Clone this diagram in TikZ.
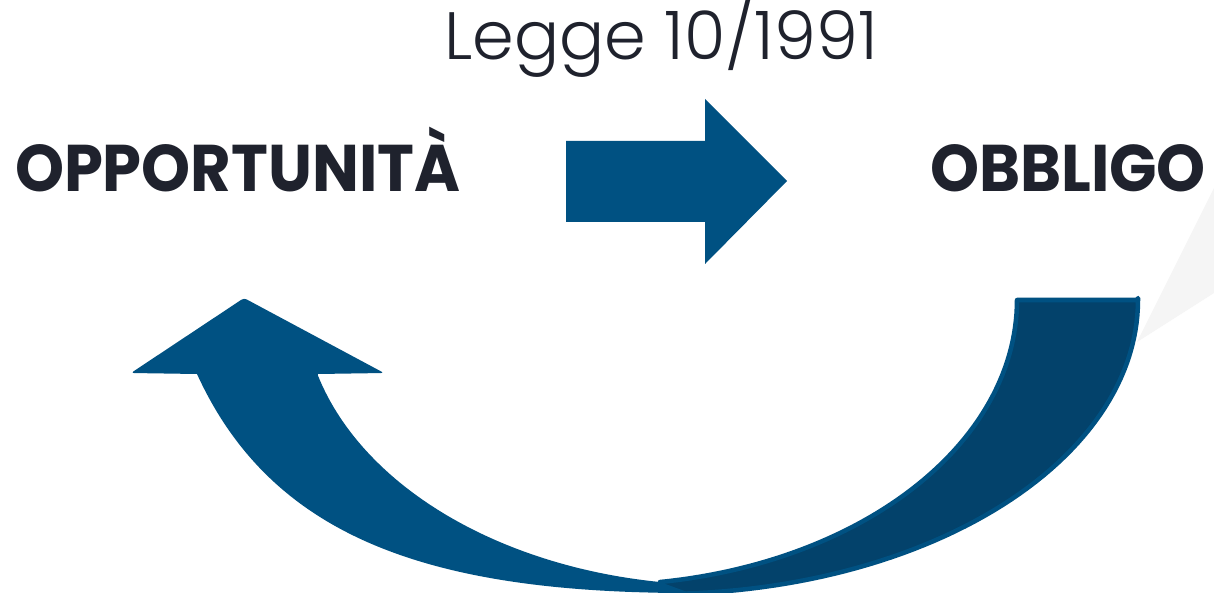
\documentclass[tikz,border=0pt]{standalone}
\usepackage{fontspec}
\setmainfont{Poppins}
\newfontfamily\titlefont{Poppins Light}
\newfontfamily\labelfont{Poppins Bold}[FakeStretch=0.945]
\definecolor{arrowblue}{HTML}{005182}
\definecolor{deepblue}{HTML}{03426B}
\definecolor{ink}{HTML}{1F222D}
\definecolor{haze}{HTML}{F5F5F5}
\begin{document}
\begin{tikzpicture}[x=1pt,y=-1pt,
  wordstyle/.style={inner sep=0pt, outer sep=0pt, text=ink},
  frontarm/.style={fill=arrowblue},
  backarm/.style={fill=deepblue, draw=arrowblue, line width=4.5pt, line join=round},
  blockarrow/.style={fill=arrowblue}]
  \useasboundingbox (0,0) rectangle (1214,593);
  \fill[white] (0,0) rectangle (1214,593);

  % faint light wedge in the right margin
  \fill[haze] (1214,188) -- (1137,342) -- (1214,293) -- cycle;

  % texts
  \node[wordstyle, anchor=base, font=\titlefont\fontsize{67}{78}\selectfont] (title) at (661,60) {Legge 10/1991};
  \node[wordstyle, anchor=base west, font=\labelfont\fontsize{66}{76}\selectfont] (opp) at (15,192) {OPPORTUNITÀ};
  \node[wordstyle, anchor=base east, font=\labelfont\fontsize{66}{76}\selectfont] (obb) at (1206,192) {OBBLIGO};

  % straight block arrow
  \fill[blockarrow] (566,141) -- (705,141) -- (705,99) -- (787,181)
     -- (705,264) -- (705,222) -- (566,222) -- cycle;

  % curved return arrow: back arm
  \path[backarm] (1017,300) [rounded corners=2] -- (1138,300) [sharp corners]
     -- plot[domain=0:90, samples=60] ({660+478*cos(\x)},{300+294*sin(\x)})
     -- plot[domain=81.73:0, samples=60] ({600+417*cos(\x)},{300+285*sin(\x)})
     -- cycle;

  % curved return arrow: front arm with head
  \fill[frontarm] (197,374) [rounded corners=3] -- (131,373) -- (244,298) -- (384,373)
     [sharp corners] -- (318,374)
     -- plot[domain=15.26:81.73, samples=60] ({720-417*cos(\x)},{300+285*sin(\x)})
     -- (690,593)
     .. controls (430,593) and (272,538) .. (197,374)
     -- cycle;
\end{tikzpicture}
\end{document}
